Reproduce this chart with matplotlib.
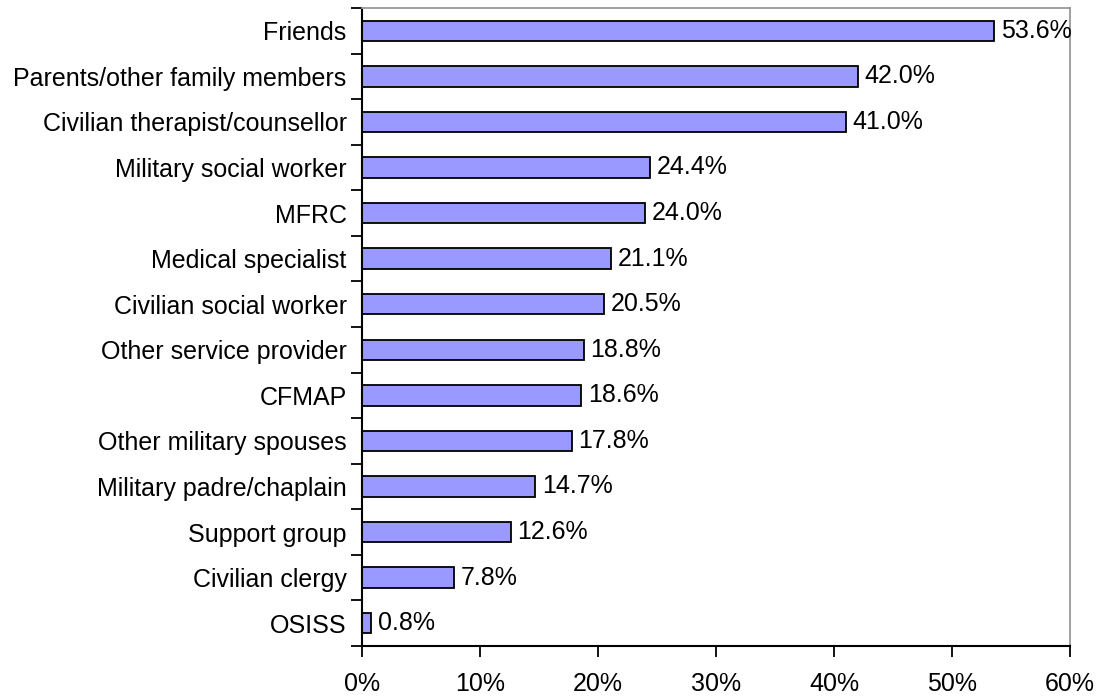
import matplotlib
matplotlib.use("Agg")
import matplotlib.pyplot as plt
from matplotlib.ticker import FixedLocator, NullFormatter

categories = [
    "Friends",
    "Parents/other family members",
    "Civilian therapist/counsellor",
    "Military social worker",
    "MFRC",
    "Medical specialist",
    "Civilian social worker",
    "Other service provider",
    "CFMAP",
    "Other military spouses",
    "Military padre/chaplain",
    "Support group",
    "Civilian clergy",
    "OSISS",
]
values = [53.6, 42.0, 41.0, 24.4, 24.0, 21.1, 20.5, 18.8, 18.6, 17.8, 14.7, 12.6, 7.8, 0.8]
x_ticks = [0, 10, 20, 30, 40, 50, 60]

plt.rcParams["font.family"] = ["Liberation Sans", "DejaVu Sans"]
FS = 18

fig = plt.figure(figsize=(11, 6.96), dpi=100)
ax = fig.add_axes([362 / 1100, 1 - 646 / 696, (1070 - 362) / 1100, (646 - 8) / 696])

n = len(categories)
ypos = list(range(n))[::-1]
ax.barh(ypos, values, height=0.45, color="#9999FF", edgecolor="black", linewidth=1.3)

for y, v in zip(ypos, values):
    ax.text(v + 0.55, y, f"{v:.1f}%", va="center", ha="left", fontsize=FS)

ax.set_xlim(0, 60)
ax.set_ylim(-0.5, n - 0.5)

ax.set_xticks(x_ticks)
ax.set_xticklabels([f"{t}%" for t in x_ticks], fontsize=FS)

# category labels at bar centres, tick marks at category boundaries
ax.set_yticks(ypos)
ax.set_yticklabels(categories, fontsize=FS)
ax.tick_params(axis="y", which="major", length=0, pad=11)
ax.yaxis.set_minor_locator(FixedLocator([i - 0.5 for i in range(n + 1)]))
ax.yaxis.set_minor_formatter(NullFormatter())
ax.tick_params(axis="y", which="minor", length=8, width=1.3, direction="out")
ax.tick_params(axis="x", which="major", length=8, width=1.3, direction="out", pad=11)

for side in ("left", "bottom"):
    ax.spines[side].set_color("black")
    ax.spines[side].set_linewidth(1.5)
for side in ("top", "right"):
    ax.spines[side].set_color("#999999")
    ax.spines[side].set_linewidth(1.3)

fig.savefig("out.png", dpi=100)
